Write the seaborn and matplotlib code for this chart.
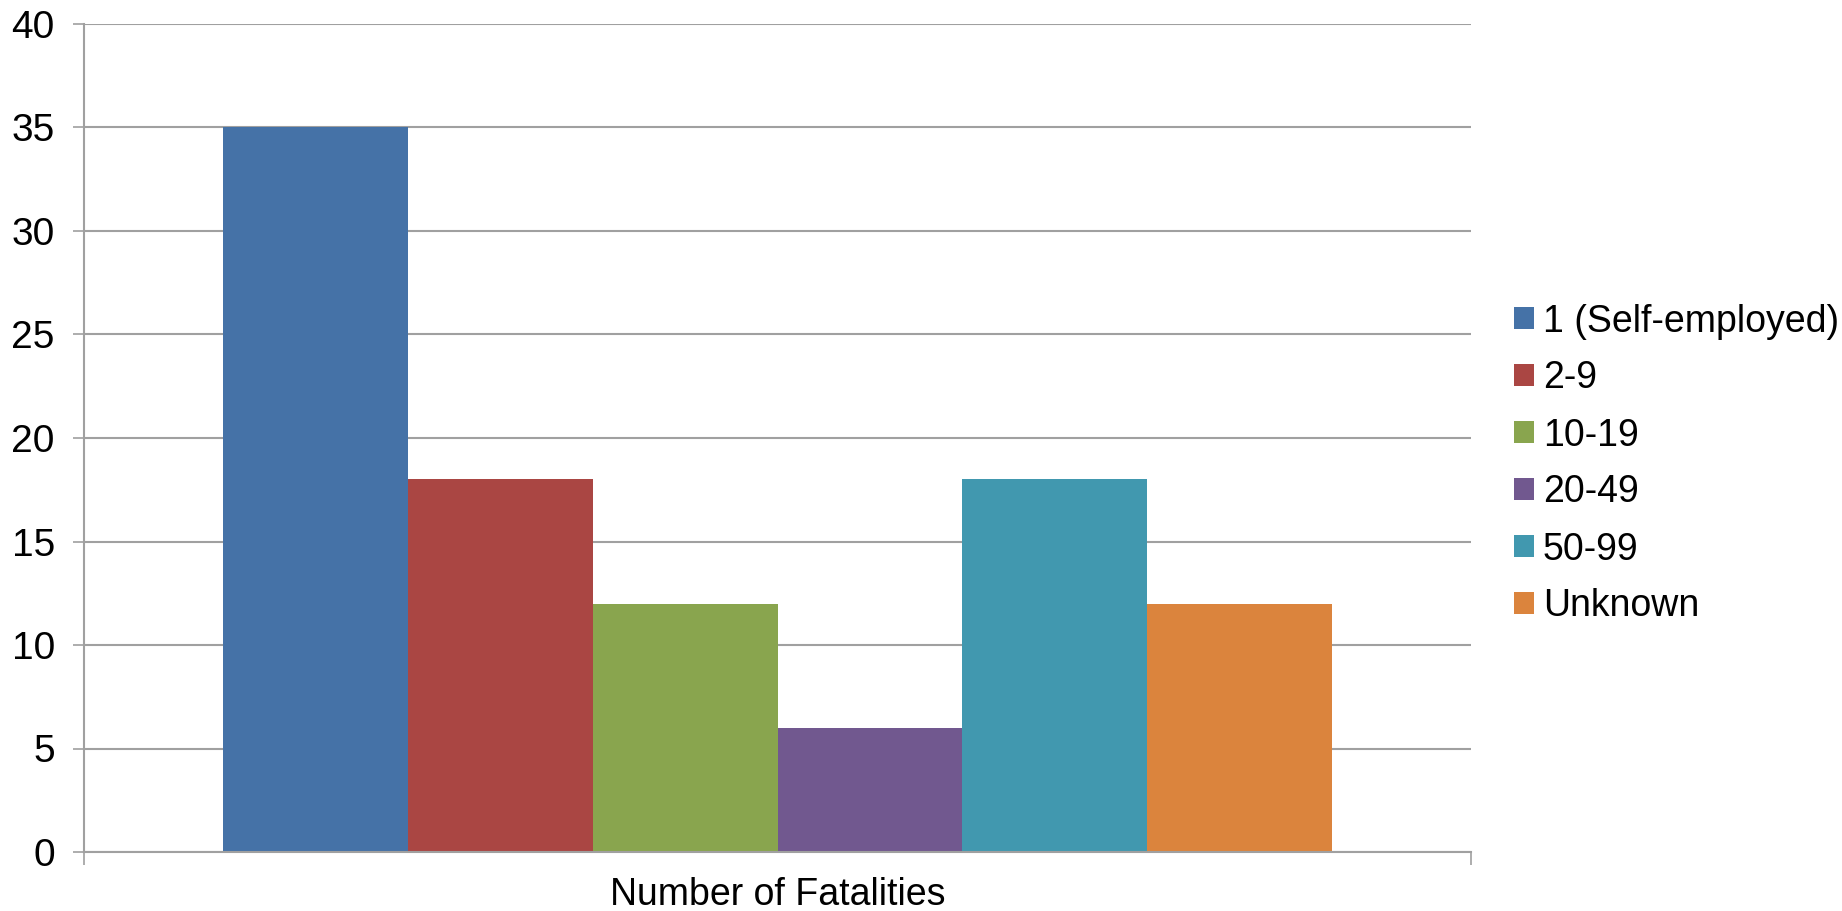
import matplotlib
matplotlib.use("Agg")
import matplotlib.pyplot as plt
from matplotlib.patches import Patch
import seaborn as sns
import pandas as pd

categories = ["1 (Self-employed)", "2-9", "10-19", "20-49", "50-99", "Unknown"]
values = [35, 18, 12, 6, 18, 12]
group = "Number of Fatalities"
colors = ["#4572A7", "#AA4643", "#89A54E", "#71588F", "#4198AF", "#DB843D"]
yticks = [0, 5, 10, 15, 20, 25, 30, 35, 40]

sns.set_theme(style="white")
plt.rcParams["font.family"] = ["Liberation Sans", "DejaVu Sans"]
plt.rcParams["text.color"] = "black"

df = pd.DataFrame({"group": [group] * len(categories), "size": categories, "value": values})

fig = plt.figure(figsize=(18.42, 9.11), dpi=100)
ax = fig.add_axes([84 / 1842, 1 - 852 / 911, (1471 - 84) / 1842, (852 - 24) / 911])

sns.barplot(data=df, x="group", y="value", hue="size", hue_order=categories,
            palette=colors, width=0.8, gap=0, saturation=1, linewidth=0,
            errorbar=None, ax=ax, legend=False)

ax.set_xlim(-0.5, 0.5)
ax.set_ylim(0, 40)
ax.set_yticks(yticks)
ax.set_xlabel("")
ax.set_ylabel("")

grid_c = "#A0A0A0"
ax.yaxis.grid(True, color=grid_c, linewidth=1.5)
ax.set_axisbelow(True)
for s in ["top", "right"]:
    ax.spines[s].set_visible(False)
for s in ["left", "bottom"]:
    ax.spines[s].set_color(grid_c)
    ax.spines[s].set_linewidth(1.5)

ax.tick_params(axis="y", which="major", left=True, length=8, width=1.2, color=grid_c,
               labelsize=28, pad=13, labelcolor="black")
ax.tick_params(axis="x", which="major", bottom=False, length=0, labelsize=27, pad=18,
               labelcolor="black")
ax.set_xticks([-0.5, 0.5], minor=True)
ax.tick_params(axis="x", which="minor", bottom=True, length=9, width=1.2, color=grid_c)

handles = [Patch(facecolor=c, edgecolor="none", label=l) for c, l in zip(colors, categories)]
fig.legend(handles=handles, loc="center left", bbox_to_anchor=(1514 / 1842, 1 - 464 / 911),
           frameon=False, fontsize=27, handlelength=0.52, handleheight=0.52,
           handletextpad=0.25, labelspacing=0.56, borderaxespad=0, borderpad=0)

fig.savefig("out.png", dpi=100)
